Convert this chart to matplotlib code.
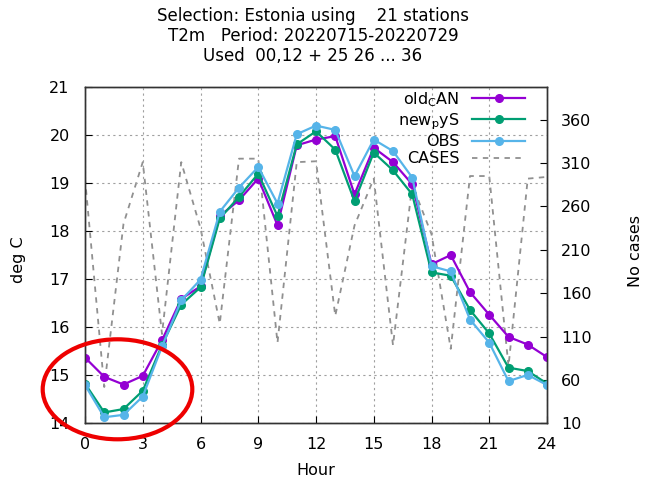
import numpy as np
import matplotlib
matplotlib.use('Agg')
from matplotlib import pyplot as plt
from matplotlib.patches import Ellipse

plt.rcParams['font.family'] = ['DejaVu Sans']
plt.rcParams['mathtext.fontset'] = 'dejavusans'

# hourly values
hours = list(range(25))
old_can = [15.37, 14.97, 14.81, 14.99, 15.73, 16.59, 16.85, 18.31, 18.64, 19.09,
           18.12, 19.78, 19.90, 19.97, 18.76, 19.73, 19.43, 18.97, 17.31, 17.50,
           16.73, 16.26, 15.80, 15.64, 15.38]
new_pys = [14.83, 14.23, 14.30, 14.68, 15.63, 16.47, 16.83, 18.26, 18.71, 19.19,
           18.31, 19.80, 20.07, 19.69, 18.62, 19.63, 19.26, 18.76, 17.14, 17.07,
           16.36, 15.87, 15.16, 15.09, 14.83]
obs = [14.80, 14.13, 14.18, 14.56, 15.60, 16.56, 16.99, 18.40, 18.90, 19.33,
       18.57, 20.01, 20.19, 20.10, 19.14, 19.90, 19.66, 19.11, 17.27, 17.16,
       16.16, 15.68, 14.88, 15.01, 14.80]
cases = [292, 52, 240, 311, 113, 311, 235, 125, 315, 315, 103, 311, 312, 134, 238,
         292, 100, 285, 228, 96, 295, 295, 76, 292, 294]

title_lines = ['Selection: Estonia using    21 stations',
               'T2m   Period: 20220715-20220729',
               'Used  00,12 + 25 26 ... 36']

fs = 11.5
fig = plt.figure(figsize=(6.46, 4.82), dpi=100)
ax = fig.add_axes([0.13158, 0.12137, 0.71517, 0.69896])
ax2 = ax.twinx()
ax.set_zorder(ax2.get_zorder() + 1)
ax.patch.set_visible(False)

l1, = ax.plot(hours, old_can, color='#9400d3', lw=1.6, marker='o', ms=5.5, label=r'old$_{\mathrm{C}}$AN')
l2, = ax.plot(hours, new_pys, color='#009e73', lw=1.6, marker='o', ms=5.5, label=r'new$_{\mathrm{p}}$yS')
l3, = ax.plot(hours, obs, color='#56b4e9', lw=1.6, marker='o', ms=5.5, label='OBS')
l4, = ax2.plot(hours, cases, color='#909090', lw=1.3, ls=(0, (3, 3)), label='CASES')

ax.set_xlim(0, 24)
ax.set_ylim(14, 21)
ax2.set_ylim(10, 398)
ax.set_xticks(range(0, 25, 3))
ax.set_yticks(range(14, 22))
ax2.set_yticks(range(10, 361, 50))
ax.grid(True, color='#a0a0a0', ls=(0, (2, 3)), lw=0.8)
ax.tick_params(direction='in', labelsize=fs, length=5)
ax.tick_params(axis='x', pad=10)
ax.tick_params(axis='y', pad=11)
ax2.tick_params(direction='in', labelsize=fs, length=5, pad=10)
for a in (ax, ax2):
    for s in a.spines.values():
        s.set_color('#333333')
        s.set_linewidth(1.0)

ax.set_xlabel('Hour', fontsize=fs, labelpad=8)
fig.text(18 / 646, 1 - 260 / 482, 'deg C', rotation=90, ha='center', va='center', fontsize=fs)
fig.text(636 / 646, 1 - 251 / 482, 'No cases', rotation=90, ha='center', va='center', fontsize=fs)

for i, t in enumerate(title_lines):
    fig.text(313 / 646, 1 - (16 + 20 * i) / 482, t, ha='center', va='center', fontsize=12)

ax.legend(handles=[l1, l2, l3, l4], loc='upper right', markerfirst=False, frameon=False,
          fontsize=fs, handlelength=3.3, handletextpad=0.8, labelspacing=0.15,
          borderpad=0, borderaxespad=0,
          bbox_to_anchor=(525 / 646, 1 - 90 / 482), bbox_transform=fig.transFigure)

ell = Ellipse((117.5 / 646, 1 - 389.3 / 482), 149.6 / 646, 100 / 482, transform=fig.transFigure,
              fill=False, edgecolor='#ee0000', lw=3.0, clip_on=False)
fig.patches.append(ell)

fig.savefig('out.png', dpi=100)
